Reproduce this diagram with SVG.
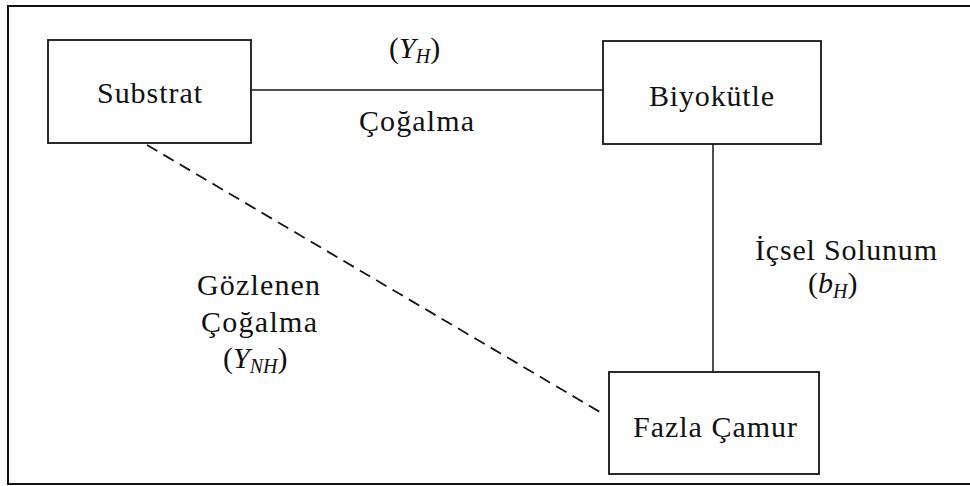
<svg xmlns="http://www.w3.org/2000/svg" width="970" height="486" viewBox="0 0 970 486">
  <style>
    .frame { fill: none; stroke: #111; stroke-width: 2; }
    .box { fill: #fff; stroke: #151515; stroke-width: 1.8; }
    .link { fill: none; stroke: #151515; stroke-width: 1.5; }
    .dash { stroke-width: 1.8; stroke-dasharray: 12 7; }
    .t { font-family: "Liberation Serif", "DejaVu Serif", serif; font-size: 30px; fill: #111; }
    .it { font-style: italic; }
    .sub { font-size: 20px; font-style: italic; }
  </style>
  <rect width="970" height="486" fill="#fff"/>

  <!-- outer frame -->
  <rect class="frame" x="8" y="6" width="975" height="478"/>

  <!-- connectors -->
  <g id="connectors">
    <line class="link" x1="251" y1="90" x2="603" y2="90"/>
    <line class="link" x1="713" y1="144" x2="713" y2="372"/>
    <line class="link dash" x1="147" y1="145" x2="605" y2="415"/>
  </g>

  <!-- nodes -->
  <g font-family="Liberation Serif, DejaVu Serif, serif" font-size="30" fill="#111">
    <g id="substrat">
      <rect class="box" x="48" y="40" width="203" height="103"/>
      <text class="t" x="97" y="103" textLength="105" lengthAdjust="spacing">Substrat</text>
    </g>
    <g id="biyokutle">
      <rect class="box" x="603" y="41" width="218" height="103"/>
      <text class="t" x="649" y="106" textLength="125" lengthAdjust="spacing">Biyokütle</text>
    </g>
    <g id="fazla-camur">
      <rect class="box" x="609" y="372" width="210" height="102"/>
      <text class="t" x="633" y="437" textLength="164" lengthAdjust="spacing">Fazla Çamur</text>
    </g>

    <!-- edge labels -->
    <g id="labels">
      <text class="t" x="389" y="58">(<tspan class="it">Y</tspan><tspan class="sub" dy="5">H</tspan><tspan dy="-5">)</tspan></text>
      <text class="t" x="359" y="131" textLength="115" lengthAdjust="spacing">Çoğalma</text>

      <text class="t" x="755" y="260" textLength="182" lengthAdjust="spacing">İçsel Solunum</text>
      <text class="t" x="808" y="293">(<tspan class="it">b</tspan><tspan class="sub" dy="5">H</tspan><tspan dy="-5">)</tspan></text>

      <text class="t" x="197" y="295" textLength="123" lengthAdjust="spacing">Gözlenen</text>
      <text class="t" x="201" y="332" textLength="116" lengthAdjust="spacing">Çoğalma</text>
      <text class="t" x="223" y="368">(<tspan class="it">Y</tspan><tspan class="sub" dy="5">NH</tspan><tspan dy="-5">)</tspan></text>
    </g>
  </g>
</svg>
